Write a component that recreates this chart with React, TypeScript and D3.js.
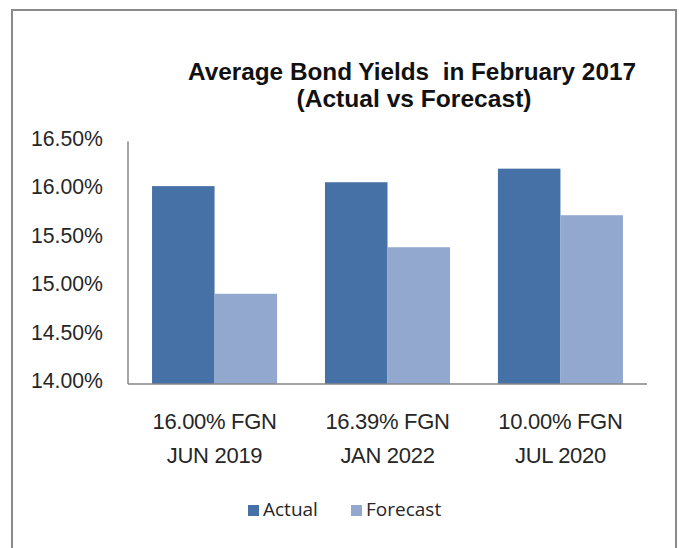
import React from "react";
import * as d3 from "d3";

const categories = ["16.00% FGN|JUN 2019", "16.39% FGN|JAN 2022", "10.00% FGN|JUL 2020"];
const seriesNames = ["Actual", "Forecast"];
const actual = [16.04, 16.08, 16.22];
const forecast = [14.93, 15.41, 15.74];
const yTicks = [14.0, 14.5, 15.0, 15.5, 16.0, 16.5];
const titleLines = ["Average Bond Yields  in February 2017", "(Actual vs Forecast)"];

const W = 679;
const H = 548;
const colors: Record<string, string> = { Actual: "#4671a7", Forecast: "#93a8cf" };

export default function App() {
  const x0 = d3.scaleBand<string>().domain(categories).range([128, 647]).paddingInner(0.277).paddingOuter(0.139);
  const x1 = d3.scaleBand<string>().domain(seriesNames).range([0, x0.bandwidth()]).padding(0);
  const y = d3.scaleLinear().domain([14, 16.5]).range([384, 141.5]);
  const values: Record<string, number[]> = { Actual: actual, Forecast: forecast };
  const labelFont = "'Liberation Sans', Arial, sans-serif";
  const fmt = (t: number) => `${d3.format(".2f")(t)}%`;

  return (
    <svg width={W} height={H} style={{ position: "absolute", left: 0, top: 0, background: "#fff" }}>
      <rect x={0} y={0} width={W} height={H} fill="#fff" />
      <rect x={12} y={10} width={664} height={700} fill="none" stroke="#8a8a8a" strokeWidth={2} />
      {/* title */}
      <text x={412} y={80} textAnchor="middle" fontFamily={labelFont} fontWeight="bold" fontSize={24} fill="#111" textLength={448} lengthAdjust="spacingAndGlyphs" style={{ whiteSpace: "pre" }}>
        {titleLines[0]}
      </text>
      <text x={414} y={107} textAnchor="middle" fontFamily={labelFont} fontWeight="bold" fontSize={24} fill="#111" textLength={235} lengthAdjust="spacingAndGlyphs">
        {titleLines[1]}
      </text>
      {/* y tick labels */}
      {yTicks.map((t) => (
        <text key={t} x={103} y={y(t) + 4} textAnchor="end" fontFamily={labelFont} fontSize={22} fill="#262626" textLength={72} lengthAdjust="spacingAndGlyphs">
          {fmt(t)}
        </text>
      ))}
      {/* bars */}
      {categories.map((c, i) => (
        <g key={c} transform={`translate(${x0(c)},0)`}>
          {seriesNames.map((s) => (
            <rect key={s} x={x1(s)} y={y(values[s][i])} width={x1.bandwidth()} height={y(14) - y(values[s][i])} fill={colors[s]} />
          ))}
        </g>
      ))}
      {/* axes */}
      <line x1={128} x2={128} y1={y(16.5)} y2={y(14)} stroke="#868686" strokeWidth={1.5} />
      <line x1={128} x2={647} y1={y(14)} y2={y(14)} stroke="#868686" strokeWidth={1.5} />
      {/* x labels */}
      {categories.map((c) => {
        const cx = (x0(c) as number) + x0.bandwidth() / 2;
        const [l1, l2] = c.split("|");
        return (
          <g key={c}>
            <text x={cx} y={429} textAnchor="middle" fontFamily={labelFont} fontSize={22} fill="#262626" letterSpacing={-0.3}>{l1}</text>
            <text x={cx} y={463} textAnchor="middle" fontFamily={labelFont} fontSize={22} fill="#262626" letterSpacing={-0.3}>{l2}</text>
          </g>
        );
      })}
      {/* legend */}
      {seriesNames.map((s, i) => {
        const lx = i === 0 ? 248 : 351;
        return (
          <g key={s}>
            <rect x={lx} y={505} width={11} height={11} fill={colors[s]} />
            <text x={lx + 15} y={516} fontFamily="'Open Sans', 'Noto Sans', sans-serif" fontSize={19} fill="#262626">{s}</text>
          </g>
        );
      })}
    </svg>
  );
}
